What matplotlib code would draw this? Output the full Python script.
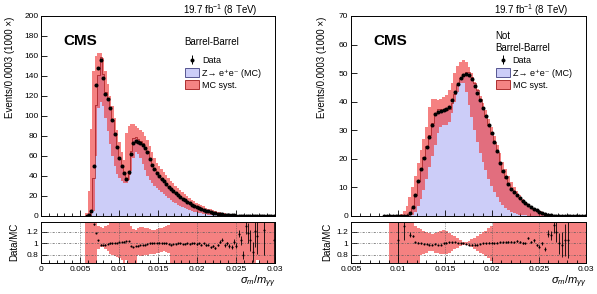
import numpy as np
import matplotlib
matplotlib.use("Agg")
import matplotlib.pyplot as plt
from matplotlib.patches import Patch
from matplotlib.ticker import MultipleLocator

plt.rcParams['font.family'] = ['Liberation Sans', 'DejaVu Sans']
plt.rcParams['mathtext.fontset'] = 'custom'
plt.rcParams['mathtext.rm'] = 'Liberation Sans'
plt.rcParams['mathtext.it'] = 'Liberation Sans:italic'

nan = np.nan

# histogram binning: 0 .. 0.03 in steps of 0.0003
n_bins = 100
x_min, x_max = 0.0, 0.03

# ---------------- Barrel-Barrel (left), values start at bin 19 ----------------
left_first = 19
left_data = [0.3, 1, 5, 50, 131, 148, 156, 138, 122, 117,
             108, 96, 82, 69, 58, 50, 43, 37, 44, 62,
             73, 75, 74, 73, 71, 68, 64, 57, 51, 47,
             43, 40, 37.5, 35, 32, 29.5, 27, 25, 23, 21,
             19, 17.5, 16, 14.5, 13, 11.5, 10.3, 9.2, 8.2, 7.2,
             6.3, 5.5, 4.7, 4.0, 3.4, 2.9, 2.4, 2.0, 1.7, 1.4,
             1.15, 0.9, 0.7, 0.55, 0.42, 0.3, 0.2, 0.12, 0.08, 0.05,
             0.035, 0.025, 0.018, 0.014, 0.012, 0.01, 0.008, 0.007, 0.006, 0.005,
             0.005]
left_ratio = [nan, nan, nan, 1.33, 1.18, 1.05, 0.98, 0.97, 0.98, 0.99,
              1.0, 1.0, 1.01, 1.01, 1.02, 1.02, 1.03, 1.04, 1.04, 0.95,
              0.94, 0.95, 0.96, 0.97, 0.97, 0.98, 0.99, 1.0, 1.0, 1.01,
              1.01, 1.01, 1.0, 1.0, 1.0, 0.99, 0.98, 0.99, 0.99, 1.0,
              1.0, 0.99, 0.99, 1.0, 0.99, 1.0, 1.0, 0.99, 1.0, 0.98,
              1.0, 0.97, 0.98, 0.93, 0.96, 0.92, 0.97, 1.03, 1.06, 0.97,
              1.0, 0.96, 0.94, 1.03, 0.96, 1.17, 1.05, 0.8, 1.3, 1.18,
              1.05, 0.85, 1.22, 1.12, nan, nan, 1.24, nan, nan, nan,
              1.06]
left_syst_lo = [0, 0, 0, 5, 60, 108, 114, 110, 98, 85,
                72, 60, 50, 42, 38, 35, 33, 33, 36, 45,
                58, 64, 62, 58, 52, 46, 40, 36, 33, 30,
                28, 26, 24, 22, 20, 18, 16, 14.5, 13, 11.5,
                10, 9, 8, 7, 6, 5.2, 4.5, 3.8, 3.2, 2.7,
                2.2, 1.8, 1.5, 1.2, 1.0, 0.8, 0.6, 0.5, 0.4, 0.3,
                0.2, 0.15, 0.1, 0.08, 0.06, 0.05, 0.04, 0.03, 0.02, 0.01,
                0, 0, 0, 0, 0, 0, 0, 0, 0, 0,
                0]
left_syst_hi = [3, 25, 87, 145, 160, 163, 163, 158, 145, 132,
                120, 110, 98, 86, 74, 64, 56, 83, 90, 92,
                92, 90, 88, 86, 84, 80, 76, 70, 64, 58,
                53, 50, 47, 44, 41, 38, 35, 33, 30, 28,
                26, 24, 22, 20, 18, 16.5, 15, 13.5, 12, 10.8,
                9.6, 8.5, 7.5, 6.6, 5.8, 5.0, 4.3, 3.7, 3.1, 2.6,
                2.2, 1.8, 1.5, 1.2, 1.0, 0.8, 0.6, 0.45, 0.35, 0.25,
                0.2, 0.15, 0.1, 0.08, 0.06, 0.05, 0.04, 0.03, 0.03, 0.02,
                0.02]
left_rband_lo = ([0.5, 0.5, 0.5, 0.5, 0.5, 0.9, 0.93, 0.93, 0.9, 0.86,
                  0.82, 0.8, 0.78, 0.76, 0.75, 0.72, 0.5, 0.72, 0.5, 0.5,
                  0.5, 0.5, 0.8, 0.78, 0.78, 0.79, 0.8, 0.81, 0.82, 0.82,
                  0.83, 0.84, 0.85, 0.86, 0.85, 0.83, 0.5, 0.5, 0.5, 0.5]
                 + [0.5] * 33 + [0.72] + [0.5] * 7)
left_rband_hi = ([1.5, 1.5, 1.5, 1.5, 1.5, 1.3, 1.28, 1.27, 1.3, 1.32,
                  1.5, 1.5, 1.5, 1.5, 1.5, 1.5, 1.5, 1.5, 1.5, 1.3,
                  1.25, 1.24, 1.26, 1.28, 1.28, 1.27, 1.26, 1.25, 1.24, 1.24,
                  1.25, 1.26, 1.27, 1.28, 1.3, 1.32, 1.5, 1.5, 1.5, 1.5]
                 + [1.5] * 41)

# ---------------- Not Barrel-Barrel (right), values start at bin 28 ----------------
right_first = 28
right_data = [0.002, 0.003, 0.004, 0.005, 0.006, 0.008, 0.012, 0.03, 0.15, 0.9,
              3.0, 7.5, 12.3, 16.5, 20.3, 24.2, 27.8, 32, 35.8, 36.4,
              36.8, 37.2, 37.6, 38.3, 40.5, 43.5, 46.2, 48.2, 49.4, 49.8,
              49.3, 47.8, 45.6, 43.2, 40.5, 37.8, 35.0, 32.0, 29.0, 26.0,
              22.8, 18.5, 15.8, 13.5, 11.3, 9.5, 8.5, 7.3, 6.3, 5.4,
              4.6, 3.9, 3.2, 2.6, 2.0, 1.5, 1.0, 0.6, 0.35, 0.2,
              0.1, 0.05, 0.03, 0.02, 0.015, 0.012, 0.008, 0.006, 0.005, 0.004,
              0.003, 0.003]
right_ratio = [nan, nan, nan, nan, nan, 1.05, nan, 1.3, nan, 1.15,
               1.13, 1.02, 1.01, 1.0, 0.99, 0.99, 0.98, 0.98, 0.99, 0.97,
               0.98, 1.0, 1.01, 1.02, 1.02, 1.02, 1.01, 1.0, 1.0, 0.99,
               0.98, 0.98, 0.98, 0.98, 0.99, 1.0, 1.0, 1.01, 1.01, 1.0,
               1.01, 1.02, 1.02, 1.02, 1.03, 1.03, 1.02, 1.04, 1.02, 1.01,
               1.0, 1.1, 1.02, 1.05, 0.97, 0.94, 1.0, 0.9, 1.17, 1.14,
               1.31, 1.2, 1.0, 0.98, 1.06, 1.06, nan, nan, nan, nan,
               nan, nan]
right_syst_lo = [0, 0, 0, 0, 0, 0, 0, 0, 0, 0.1,
                 0.5, 1.5, 3.5, 6, 9, 13, 17, 21, 25, 29,
                 31, 32, 32, 33, 36, 40, 43.5, 46.5, 46.5, 43.5,
                 39, 34.5, 30, 26, 22, 19, 16, 13, 10.5, 8.5,
                 6.5, 5, 3.8, 2.8, 2, 1.5, 1.0, 0.7, 0.5, 0.3,
                 0.2, 0.1, 0.05, 0, 0, 0, 0, 0, 0, 0,
                 0, 0, 0, 0, 0, 0, 0, 0, 0, 0,
                 0, 0]
right_syst_hi = [0, 0, 0.05, 0.1, 0.2, 0.4, 0.8, 1.6, 3.5, 6.5,
                 10, 14, 18.5, 23, 27, 31, 38, 41, 41, 40.5,
                 41, 41.5, 42.5, 44, 46.5, 50, 52.5, 54, 54.5, 54,
                 52, 50, 47, 44.5, 42, 39.5, 37, 34, 31, 28,
                 25, 22, 19, 16.5, 14, 12, 10.3, 8.8, 7.3, 6,
                 5, 4.1, 3.3, 2.6, 2.0, 1.5, 1.1, 0.8, 0.55, 0.4,
                 0.25, 0.15, 0.1, 0.06, 0.04, 0.03, 0.02, 0.02, 0.02, 0.02,
                 0.02, 0.02]
right_rband_lo = ([1, 1, 0.5, 0.5, 0.5, 0.5, 0.5, 0.5, 0.5, 0.5,
                   0.5, 0.5, 0.5, 0.8, 0.82, 0.84, 0.86, 0.86, 0.84, 0.83,
                   0.82, 0.81, 0.82, 0.84, 0.87, 0.9, 0.92, 0.95, 0.97, 0.98,
                   0.96, 0.93, 0.9, 0.87, 0.84, 0.81, 0.78, 0.74, 0.7, 0.5]
                  + [0.5] * 32)
right_rband_hi = ([1, 1, 1.5, 1.5, 1.5, 1.5, 1.5, 1.5, 1.5, 1.5,
                   1.5, 1.3, 1.27, 1.25, 1.22, 1.2, 1.18, 1.17, 1.18, 1.2,
                   1.22, 1.24, 1.22, 1.18, 1.15, 1.12, 1.09, 1.06, 1.03, 1.02,
                   1.04, 1.07, 1.1, 1.13, 1.16, 1.19, 1.22, 1.26, 1.3, 1.5]
                  + [1.5] * 32)

blue = '#cccdf8'
red = '#f03434'
dark_red = '#a01818'


def pad(values, first, fill=0.0):
    out = np.full(n_bins, fill, dtype=float)
    out[first:first + len(values)] = values
    return out


def draw(ax, axr, first, data, ratio, lo, hi, rlo, rhi):
    edges = np.linspace(x_min, x_max, n_bins + 1)
    centers = 0.5 * (edges[1:] + edges[:-1])
    data = pad(data, first)
    ratio = pad(ratio, first, nan)
    lo = pad(lo, first)
    hi = pad(hi, first)
    rlo = pad(rlo, first, 1.0)
    rhi = pad(rhi, first, 1.0)
    mc = np.where(np.isfinite(ratio), data / np.where(np.isfinite(ratio), ratio, 1.0), data)
    err = np.sqrt(data * 1000.0) / 1000.0

    ax.stairs(mc, edges, fill=True, color=blue, lw=0, zorder=1)
    ax.stairs(hi, edges, baseline=lo, fill=True, color=red, alpha=0.62, lw=0, zorder=2)
    ax.stairs(mc, edges, color=dark_red, lw=0.5, zorder=3)
    m = data > 0
    h = ax.errorbar(centers[m], data[m], yerr=err[m], fmt='o', ms=2.9, mew=0, color='k',
                    elinewidth=0.7, capsize=0, zorder=4, label='Data')

    axr.stairs(rhi, edges, baseline=rlo, fill=True, color=red, alpha=0.62, lw=0, zorder=1)
    rm = np.isfinite(ratio) & (mc > 0)
    axr.errorbar(centers[rm], ratio[rm], yerr=err[rm] / mc[rm], fmt='o', ms=1.5, mew=0,
                 color='k', elinewidth=0.6, capsize=0, zorder=4)
    return h


fig = plt.figure(figsize=(5.97, 2.94), dpi=100)
W, H = 597.0, 294.0

panels = [
    dict(x0=41, x1=275, xlim=(0.0, 0.03), ylim=(0, 200), ystep=20,
         xticks=[0, 0.005, 0.01, 0.015, 0.02, 0.025, 0.03],
         xlabels=['0', '0.005', '0.01', '0.015', '0.02', '0.025', '0.03'],
         first=left_first, data=left_data, ratio=left_ratio,
         lo=left_syst_lo, hi=left_syst_hi, rlo=left_rband_lo, rhi=left_rband_hi,
         cat='Barrel-Barrel', ylab_x=10, rlab_x=14),
    dict(x0=351, x1=586, xlim=(0.005, 0.03), ylim=(0, 70), ystep=10,
         xticks=[0.005, 0.01, 0.015, 0.02, 0.025, 0.03],
         xlabels=['0.005', '0.01', '0.015', '0.02', '0.025', '0.03'],
         first=right_first, data=right_data, ratio=right_ratio,
         lo=right_syst_lo, hi=right_syst_hi, rlo=right_rband_lo, rhi=right_rband_hi,
         cat='Not\nBarrel-Barrel', ylab_x=322, rlab_x=327),
]

for p in panels:
    left = p['x0'] / W
    width = (p['x1'] - p['x0']) / W
    ax = fig.add_axes([left, 1 - 216 / H, width, 200 / H])
    axr = fig.add_axes([left, 1 - 263 / H, width, 41 / H])

    h = draw(ax, axr, p['first'], p['data'], p['ratio'], p['lo'], p['hi'], p['rlo'], p['rhi'])

    ax.set_xlim(*p['xlim'])
    ax.set_ylim(*p['ylim'])
    ax.set_yticks(np.arange(p['ylim'][0], p['ylim'][1] + 1, p['ystep']))
    ax.set_xticks(p['xticks'])
    ax.xaxis.set_minor_locator(MultipleLocator(0.001))
    ax.tick_params(axis='x', labelbottom=False)

    axr.set_xlim(*p['xlim'])
    axr.set_ylim(0.66, 1.37)
    axr.set_yticks([0.8, 1.0, 1.2])
    axr.set_yticklabels(['0.8', '1', '1.2'])
    axr.set_xticks(p['xticks'])
    axr.set_xticklabels(p['xlabels'])
    axr.xaxis.set_minor_locator(MultipleLocator(0.001))
    for yv in [0.8, 1.0, 1.2]:
        axr.axhline(yv, color='0.35', lw=0.5, ls=(0, (3, 2, 1, 2)), zorder=3)
    for xv in p['xticks'][1:-1]:
        axr.axvline(xv, color='0.35', lw=0.5, ls=(0, (1, 1.5)), zorder=3)

    for a in (ax, axr):
        a.tick_params(which='both', direction='in', labelsize=6, width=0.6, pad=2)
        a.tick_params(which='major', length=4)
        a.tick_params(which='minor', length=2)
        for s in a.spines.values():
            s.set_linewidth(0.7)

    ax.text(0.094, 0.875, 'CMS', transform=ax.transAxes, fontsize=11,
            fontweight='bold', ha='left', va='center')
    ax.text(0.614, 0.87, p['cat'], transform=ax.transAxes, fontsize=7,
            ha='left', va='center', linespacing=1.15)
    ax.text(0.927, 1.03, '19.7 fb$^{-1}$ (8 TeV)', transform=ax.transAxes,
            fontsize=7, ha='right', va='center')

    handles = [h,
               Patch(facecolor=blue, edgecolor='#404080', lw=0.6),
               Patch(facecolor='#f48383', edgecolor=dark_red, lw=0.6)]
    labels = ['Data', 'Z\u2192 e\u207ae\u207b (MC)', 'MC syst.']
    ax.legend(handles, labels, loc='upper left', bbox_to_anchor=(0.617, 0.8),
              frameon=False, fontsize=6.5, borderpad=0, borderaxespad=0,
              handlelength=1.5, handleheight=1.1, handletextpad=0.35,
              labelspacing=0.3)

    fig.text(p['ylab_x'] / W, 1 - 17 / H, 'Events/0.0003 (1000 \u00d7)',
             rotation=90, fontsize=7, ha='center', va='top')
    fig.text(p['rlab_x'] / W, 1 - 242 / H, 'Data/MC', rotation=90,
             fontsize=7, ha='center', va='center')
    fig.text((p['x1'] + 1) / W, 1 - 282 / H, r'$\sigma_{m}/m_{\gamma\gamma}$',
             fontsize=8, ha='right', va='center')

fig.savefig('out.png', dpi=100)
